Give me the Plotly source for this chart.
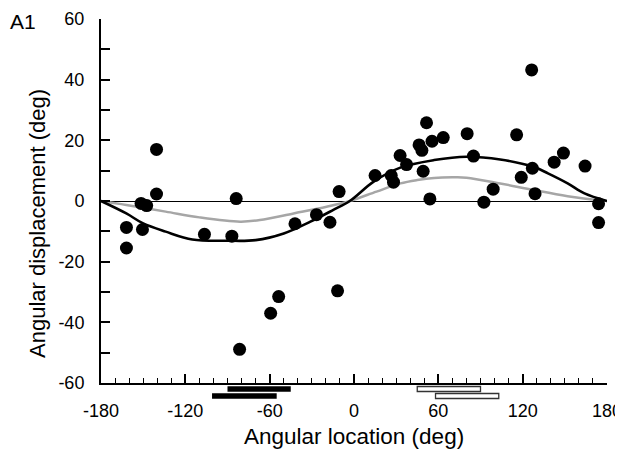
import plotly.graph_objects as go

# ---- data ----
pts_x = [-161.9, -161.9, -150.5, -151.5, -147.5, -140.5, -140.5, -106.4, -86.9, -83.8,
         -81.4, -59.3, -53.6, -42.0, -26.7, -17.1, -11.7, -10.6, 15.0, 26.5,
         28.1, 32.8, 37.4, 46.3, 48.3, 49.2, 51.6, 54.0, 55.5, 63.5,
         80.5, 85.0, 92.4, 99.0, 115.7, 119.0, 126.4, 126.9, 128.8, 142.4,
         149.0, 164.4, 174.0, 174.0]
pts_y = [-8.7, -15.5, -9.4, -0.8, -1.5, 2.3, 17.0, -11.0, -11.6, 0.8,
         -48.9, -37.0, -31.5, -7.5, -4.5, -7.0, -29.6, 3.1, 8.4, 8.4,
         6.2, 15.0, 12.0, 18.5, 16.7, 9.8, 25.8, 0.7, 19.7, 20.9,
         22.2, 14.8, -0.4, 3.9, 21.8, 7.8, 43.2, 10.8, 2.4, 12.8,
         15.8, 11.5, -0.9, -7.1]

fit_x = [-180, -162, -150, -134, -115, -90, -70, -50, -31, -15, -3, 14, 33, 57, 80, 104, 128, 138, 152, 164, 180]
fit_y = [0, -4.1, -7.4, -10.1, -12.7, -13.1, -12.9, -10.7, -6.8, -3.0, 0, 6.4, 11.0, 13.5, 14.6, 13.7, 11.2, 9.1, 5.8, 2.5, 0]

gray_x = [-180, -162, -134, -110, -81, -67, -43, -19.5, -3, 16, 33, 45, 57, 70, 80, 104, 128, 152, 180]
gray_y = [0, -1.3, -3.5, -5.4, -6.8, -6.3, -4.1, -1.9, 0, 3.1, 5.8, 6.9, 7.6, 7.8, 7.7, 5.8, 3.6, 1.6, 0]

black_bar_start = [-90, -101]
black_bar_end = [-45, -55]
open_bar_start = [45, 58]
open_bar_end = [90, 103]
bar_rows = [11, 4]

x_ticks = [-180, -120, -60, 0, 60, 120, 180]
x_tick_labels = ["-180", "-120", "-60", "0", "60", "120", "180"]
x_minor = list(range(-180, 181, 10))
y_ticks = [-60, -40, -20, 0, 20, 40, 60]
y_tick_labels = ["-60", "-40", "-20", "0", "20", "40", "60"]
y_minor = list(range(-60, 61, 10))

FONT = "Liberation Sans, Arial, Helvetica, sans-serif"

fig = go.Figure()

fig.add_trace(go.Scatter(x=gray_x, y=gray_y, mode="lines", line=dict(color="#a6a6a6", width=2.5, shape="spline"),
                         hoverinfo="skip"))
fig.add_trace(go.Scatter(x=fit_x, y=fit_y, mode="lines", line=dict(color="black", width=2.6, shape="spline"),
                         hoverinfo="skip"))
fig.add_trace(go.Scatter(x=pts_x, y=pts_y, mode="markers",
                         marker=dict(color="black", size=13, line=dict(width=0))))

fig.add_trace(go.Bar(orientation="h", y=bar_rows,
                     x=[e - s for s, e in zip(black_bar_start, black_bar_end)],
                     base=black_bar_start, width=5.5,
                     marker=dict(color="black", line=dict(width=0)),
                     xaxis="x", yaxis="y2"))
fig.add_trace(go.Bar(orientation="h", y=bar_rows,
                     x=[e - s for s, e in zip(open_bar_start, open_bar_end)],
                     base=open_bar_start, width=5,
                     marker=dict(color="white", line=dict(width=1.3, color="#333333")),
                     xaxis="x", yaxis="y2"))

# page body has an 8px margin: figure sized so it exactly fills the window
W, H = 615, 444
left, right, top, bottom = 93, 16, 11, 52
plot_h = H - top - bottom
plot_w = W - left - right
split = 17 / plot_h

fig.update_layout(
    width=W, height=H,
    margin=dict(l=left, r=right, t=top, b=bottom, autoexpand=False),
    paper_bgcolor="white", plot_bgcolor="rgba(0,0,0,0)",
    showlegend=False, barmode="overlay",
    font=dict(family=FONT, color="black", size=18),
    xaxis=dict(range=[-180, 180], tickmode="array", tickvals=x_ticks, ticktext=x_tick_labels,
               ticks="inside", ticklen=9, tickwidth=1.5, automargin=False, ticklabeloverflow="allow",
               tickcolor="black", showline=True, linecolor="black", linewidth=2,
               showgrid=False, zeroline=False, anchor="y",
               minor=dict(tickmode="array", tickvals=x_minor, ticks="inside", ticklen=5, tickwidth=1.3,
                          tickcolor="black", showgrid=False),
               ticklabelstandoff=10, tickfont=dict(size=18)),
    yaxis=dict(range=[-60, 60], tickmode="array", tickvals=y_ticks, ticktext=y_tick_labels,
               ticks="inside", ticklen=9, tickwidth=1.5, automargin=False, ticklabeloverflow="allow",
               tickcolor="black", showline=True, linecolor="black", linewidth=2,
               showgrid=False, zeroline=True, zerolinecolor="black", zerolinewidth=1.3,
               domain=[split, 1],
               minor=dict(tickmode="array", tickvals=y_minor, ticks="inside", ticklen=9, tickwidth=1.5,
                          tickcolor="black", showgrid=False),
               ticklabelstandoff=11, tickfont=dict(size=18)),
    yaxis2=dict(range=[0, 17], domain=[0, split], visible=False, anchor="x", fixedrange=True),
)
fig.layout.annotations = [
    dict(text="A1", xref="paper", yref="paper", x=-left / plot_w, y=1,
         xanchor="left", yanchor="middle", showarrow=False, yshift=-2, xshift=0,
         font=dict(size=21, family=FONT)),
    dict(text="Angular location (deg)", xref="paper", yref="paper", x=0.5, y=-37 / plot_h,
         xanchor="center", yanchor="middle", showarrow=False, font=dict(size=22.5, family=FONT)),
    dict(text="Angular displacement (deg)", xref="paper", yref="paper", x=0, y=176 / plot_h,
         xanchor="center", yanchor="middle", xshift=-64, textangle=-90, showarrow=False,
         font=dict(size=22, family=FONT)),
]

fig.write_html("out.html")
